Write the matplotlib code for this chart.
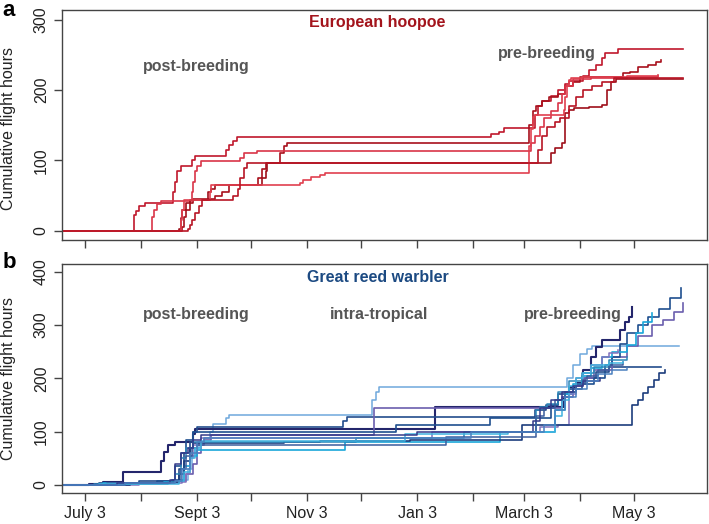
import matplotlib
matplotlib.use("Agg")
import matplotlib.pyplot as plt

plt.rcParams['font.family'] = ['Liberation Sans', 'DejaVu Sans']

# days since July 3, cumulative flight hours (step points)
month_days = [0, 31, 62, 92, 123, 153, 184, 215, 243, 274, 304]
month_labels = ["July 3", "", "Sept 3", "", "Nov 3", "", "Jan 3", "", "March 3", "", "May 3"]

hoopoe_days = [
    [-13, 27, 28, 30, 33, 48, 49, 50, 51, 53, 59, 61, 76, 78, 80, 82, 84, 223, 225, 229, 232, 248,
     249, 251, 253, 258, 262, 266, 268, 276, 279, 283, 286, 288, 295, 331],
    [-13, 54, 55, 56, 58, 60, 70, 72, 76, 80, 95, 96, 98, 100, 106, 108, 110, 112, 245, 246, 248,
     250, 253, 257, 262, 266, 270, 274, 294, 298, 302, 306, 312, 316, 319],
    [-13, 37, 38, 40, 42, 58, 59, 60, 61, 62, 64, 84, 86, 88, 95, 246, 247, 249, 252, 254, 258,
     262, 264, 266, 270, 280, 300, 317],
    [-13, 52, 53, 54, 56, 58, 66, 68, 70, 72, 96, 98, 100, 101, 256, 258, 260, 264, 266, 268, 271,
     279, 286, 289, 291, 294, 331],
    [-13, 53, 54, 55, 57, 69, 70, 72, 119, 121, 125, 130, 133, 136, 246, 247, 248, 249, 265, 266,
     267, 268, 269, 275, 300, 317],
    [-13, 57, 58, 59, 61, 63, 65, 80, 82, 85, 86, 88, 90, 250, 251, 253, 256, 260, 263, 268, 272,
     276, 281, 286, 293, 331],
]
hoopoe_hours = [
    [0, 22, 28, 35, 40, 40, 55, 70, 85, 92, 100, 107, 107, 115, 122, 128, 133, 133, 137, 141, 146,
     146, 165, 178, 185, 192, 200, 208, 213, 220, 228, 236, 245, 252, 258, 258],
    [0, 5, 20, 30, 40, 45, 45, 50, 55, 65, 65, 75, 88, 97, 97, 110, 120, 125, 125, 150, 170, 178,
     185, 190, 195, 205, 212, 219, 219, 224, 226, 232, 235, 240, 243],
    [0, 20, 30, 38, 42, 42, 55, 70, 85, 92, 99, 99, 104, 110, 114, 114, 125, 135, 148, 160, 170,
     182, 195, 205, 215, 217, 219, 221],
    [0, 3, 18, 30, 40, 44, 44, 55, 60, 65, 65, 75, 85, 97, 97, 111, 118, 125, 167, 172, 174, 176,
     179, 200, 211, 216, 216],
    [0, 15, 30, 44, 44, 55, 65, 65, 68, 72, 76, 80, 82, 82, 120, 145, 162, 164, 172, 190, 205, 214,
     217, 218, 220, 220],
    [0, 3, 8, 15, 25, 35, 44, 44, 50, 60, 75, 90, 97, 97, 115, 135, 148, 155, 160, 178, 190, 200,
     206, 212, 217, 217],
]

warbler_days = [
    [-13, 5, 25, 45, 55, 57, 59, 61, 63, 66, 69, 71, 76, 78, 80, 157, 159, 161, 163, 265, 267, 270,
     274, 278, 281, 329],
    [-13, 2, 10, 21, 40, 42, 44, 46, 50, 58, 60, 61, 193, 194, 263, 265, 268, 272, 276, 280, 283,
     286, 294, 296, 299, 301, 303],
    [-13, 8, 30, 50, 52, 55, 58, 60, 62, 141, 143, 145, 247, 249, 255, 262, 266, 272, 277, 283, 290,
     319],
    [-13, 20, 45, 52, 56, 60, 62, 64, 66, 70, 158, 160, 262, 264, 270, 276, 282, 292, 300, 306, 314,
     320, 326, 331],
    [-13, 15, 40, 48, 50, 53, 56, 60, 170, 172, 222, 224, 255, 258, 262, 268, 275, 282, 288, 292,
     296, 300, 306, 312, 318, 324, 330],
    [-13, 10, 44, 52, 55, 58, 62, 142, 144, 228, 230, 258, 260, 266, 270, 275, 280, 286, 292, 300,
     305, 309, 314],
    [-13, 30, 54, 56, 58, 60, 64, 190, 192, 250, 252, 262, 268, 272, 276, 280, 286, 290, 295],
    [-13, 25, 48, 52, 55, 58, 60, 110, 130, 180, 240, 242, 302, 303, 306, 309, 312, 315, 318, 321],
    [-13, 5, 46, 50, 53, 56, 60, 64, 150, 152, 210, 212, 250, 252, 256, 262, 268, 275, 282, 290,
     300],
    [-13, 12, 50, 53, 56, 59, 62, 198, 200, 248, 250, 254, 260, 266, 272, 278, 284, 290, 298],
    [-13, 8, 52, 55, 58, 61, 64, 175, 177, 232, 234, 258, 260, 264, 268, 272, 276, 280, 290, 298],
    [-13, 18, 47, 50, 53, 57, 60, 64, 182, 184, 246, 248, 252, 258, 264, 270, 276, 285],
    [-13, 22, 50, 54, 58, 62, 66, 212, 214, 252, 254, 260, 266, 272, 278, 284, 292, 300],
]
warbler_hours = [
    [0, 2, 4, 8, 10, 30, 55, 70, 80, 88, 100, 114, 114, 125, 132, 132, 160, 175, 184, 184, 200,
     225, 245, 255, 261, 261],
    [0, 2, 5, 25, 25, 45, 62, 75, 80, 80, 95, 105, 105, 147, 147, 165, 184, 191, 215, 240, 258,
     272, 272, 291, 305, 316, 333],
    [0, 3, 8, 10, 30, 60, 80, 100, 109, 109, 120, 127, 127, 140, 150, 160, 175, 190, 200, 212, 222,
     222],
    [0, 3, 6, 8, 20, 40, 60, 75, 85, 94, 94, 144, 144, 165, 185, 200, 215, 240, 260, 280, 300, 310,
     325, 341],
    [0, 4, 7, 10, 35, 60, 85, 100, 100, 112, 112, 125, 125, 150, 170, 180, 190, 200, 225, 240, 265,
     285, 300, 315, 330, 350, 369],
    [0, 3, 6, 10, 35, 55, 66, 66, 80, 80, 100, 100, 140, 170, 190, 205, 220, 240, 250, 262, 285,
     305, 322],
    [0, 3, 5, 20, 50, 75, 88, 88, 100, 100, 108, 112, 170, 200, 210, 225, 240, 248, 253],
    [0, 3, 5, 20, 45, 70, 78, 80, 82, 85, 85, 112, 112, 150, 159, 172, 184, 197, 210, 216],
    [0, 2, 6, 20, 50, 70, 81, 81, 88, 88, 100, 100, 140, 147, 152, 175, 195, 210, 222, 235, 240],
    [0, 3, 8, 30, 55, 70, 75, 75, 90, 90, 130, 145, 160, 175, 190, 205, 215, 225, 230],
    [0, 2, 7, 25, 50, 70, 82, 82, 95, 95, 100, 100, 130, 160, 185, 200, 210, 225, 228, 230],
    [0, 4, 10, 40, 60, 70, 85, 94, 94, 100, 100, 120, 145, 160, 175, 185, 195, 200],
    [0, 4, 8, 30, 60, 80, 88, 88, 100, 100, 112, 140, 165, 180, 195, 208, 215, 220],
]

hoopoe_colors = ['#c0182c', '#a8101c', '#d93548', '#9e0f1a', '#e0404f', '#b81525']
warbler_colors = ['#6fa8dc', '#24266c', '#234d8c', '#6b5fae', '#1f4f8f', '#1aa7d9', '#8273bd',
                  '#1c3d7d', '#2c86b8', '#3b5c9c', '#3fb3df', '#343a8a', '#4a80bf']
warbler_widths = [1.1, 1.5, 1.2, 1.2, 1.2, 1.2, 1.1, 1.2, 1.1, 1.1, 1.1, 1.1, 1.1]

fig = plt.figure(figsize=(7.09, 5.24), dpi=100)
ax1 = fig.add_axes([62/709, 1-240/524, 645/709, 230/524])
ax2 = fig.add_axes([62/709, 1-493/524, 645/709, 229/524])

for d, h, c in zip(hoopoe_days, hoopoe_hours, hoopoe_colors):
    ax1.plot(d, h, drawstyle='steps-post', color=c, lw=1.2)
for d, h, c, w in zip(warbler_days, warbler_hours, warbler_colors, warbler_widths):
    ax2.plot(d, h, drawstyle='steps-post', color=c, lw=w)

gray = '#555555'
for ax in (ax1, ax2):
    ax.set_xlim(-12.7, 344.4)
    ax.set_xticks(month_days)
    for s in ax.spines.values():
        s.set_color('#444444')
        s.set_linewidth(1.0)
    ax.tick_params(length=6, width=1.0, color='#444444', labelsize=11.5, labelcolor='#222222')
    ax.tick_params(axis='y', labelrotation=90)
    plt.setp(ax.get_yticklabels(), va='center')

ax1.set_ylim(-12.8, 313.5)
ax1.set_yticks([0, 100, 200, 300])
ax1.set_xticklabels([])
ax2.set_ylim(-15, 414.6)
ax2.set_yticks([0, 100, 200, 300, 400])
ax2.set_xticklabels(month_labels)

ax1.text(162, 296, "European hoopoe", color='#a3141c', fontsize=11.5, fontweight='bold',
         ha='center', va='center')
ax1.text(61.5, 233, "post-breeding", color=gray, fontsize=11.5, fontweight='bold',
         ha='center', va='center')
ax1.text(256, 252, "pre-breeding", color=gray, fontsize=11.5, fontweight='bold',
         ha='center', va='center')

ax2.text(162, 390, "Great reed warbler", color='#1c4a82', fontsize=11.5, fontweight='bold',
         ha='center', va='center')
ax2.text(61.5, 319, "post-breeding", color=gray, fontsize=11.5, fontweight='bold',
         ha='center', va='center')
ax2.text(163, 319, "intra-tropical", color=gray, fontsize=11.5, fontweight='bold',
         ha='center', va='center')
ax2.text(270, 319, "pre-breeding", color=gray, fontsize=11.5, fontweight='bold',
         ha='center', va='center')

fig.text(8.5/709, 1-128/524, "Cumulative flight hours", rotation=90, ha='center', va='center',
         fontsize=11.5, color='#222222')
fig.text(8.5/709, 1-378/524, "Cumulative flight hours", rotation=90, ha='center', va='center',
         fontsize=11.5, color='#222222')
fig.text(9/709, 1-10/524, "a", fontsize=16, fontweight='bold', ha='center', va='center')
fig.text(9/709, 1-263/524, "b", fontsize=16, fontweight='bold', ha='center', va='center')

fig.savefig("out.png", dpi=100)
